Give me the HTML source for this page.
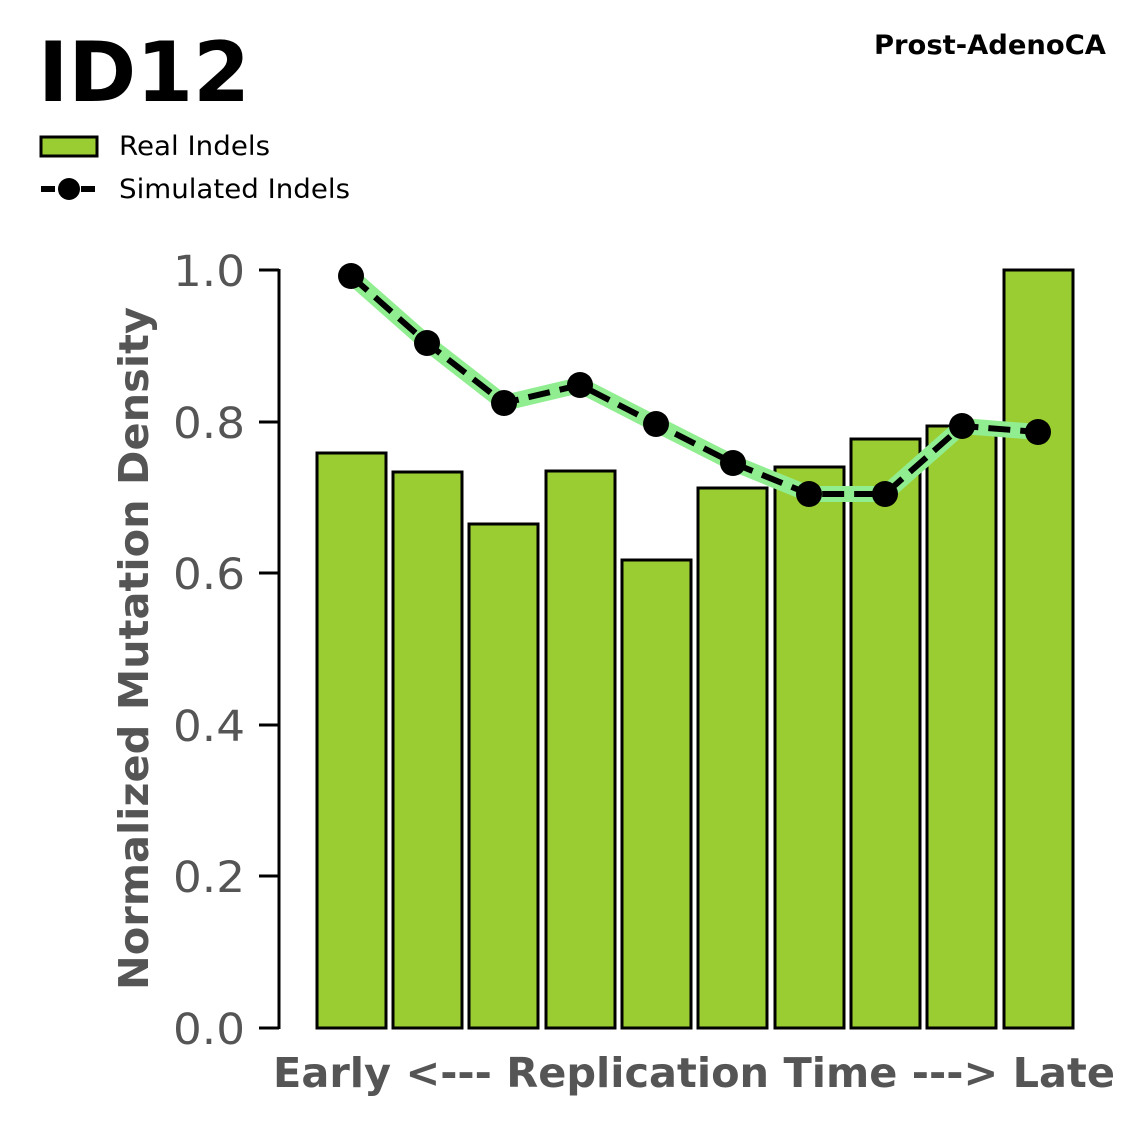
<!DOCTYPE html>
<html><head><meta charset="utf-8"><style>
html,body{margin:0;padding:0;background:#fff}
svg text{font-family:"DejaVu Sans","Liberation Sans",sans-serif}
</style></head><body>
<svg width="1147" height="1125" viewBox="0 0 1147 1125" xmlns="http://www.w3.org/2000/svg">
<text x="38" y="101" font-size="83" font-weight="bold" fill="#000" textLength="212" lengthAdjust="spacingAndGlyphs">ID12</text>
<text x="874" y="54" font-size="27" font-weight="bold" fill="#000" textLength="232" lengthAdjust="spacingAndGlyphs">Prost-AdenoCA</text>
<rect x="41" y="137" width="56" height="19" fill="#9ACD32" stroke="#000" stroke-width="3"/>
<text x="119" y="155" font-size="27" fill="#000" textLength="151" lengthAdjust="spacingAndGlyphs">Real Indels</text>
<line x1="41" y1="189" x2="97" y2="189" stroke="#000" stroke-width="6" stroke-dasharray="14,6"/>
<circle cx="69" cy="189" r="11" fill="#000"/>
<text x="119" y="198" font-size="27" fill="#000" textLength="231" lengthAdjust="spacingAndGlyphs">Simulated Indels</text>
<line x1="279" y1="269" x2="279" y2="1029" stroke="#000" stroke-width="3"/>
<g stroke="#000" stroke-width="3">
<line x1="259" y1="1028" x2="279" y2="1028"/><line x1="259" y1="876" x2="279" y2="876"/>
<line x1="259" y1="725" x2="279" y2="725"/><line x1="259" y1="573" x2="279" y2="573"/>
<line x1="259" y1="422" x2="279" y2="422"/><line x1="259" y1="270" x2="279" y2="270"/>
</g>
<g font-size="43" fill="#555">
<text x="173" y="1044" textLength="72" lengthAdjust="spacingAndGlyphs">0.0</text>
<text x="173" y="892" textLength="72" lengthAdjust="spacingAndGlyphs">0.2</text>
<text x="173" y="741" textLength="72" lengthAdjust="spacingAndGlyphs">0.4</text>
<text x="173" y="589" textLength="72" lengthAdjust="spacingAndGlyphs">0.6</text>
<text x="173" y="438" textLength="72" lengthAdjust="spacingAndGlyphs">0.8</text>
<text x="173" y="286" textLength="72" lengthAdjust="spacingAndGlyphs">1.0</text>
</g>
<text transform="translate(148,990) rotate(-90)" font-size="41" font-weight="bold" fill="#555" textLength="683" lengthAdjust="spacingAndGlyphs">Normalized Mutation Density</text>
<text x="273" y="1087" font-size="41" font-weight="bold" fill="#555" textLength="842" lengthAdjust="spacingAndGlyphs">Early &lt;--- Replication Time ---&gt; Late</text>
<g fill="#9ACD32" stroke="#000" stroke-width="3">
<rect x="317" y="453" width="69" height="575"/>
<rect x="393" y="472" width="69" height="556"/>
<rect x="469" y="524" width="69" height="504"/>
<rect x="546" y="471" width="69" height="557"/>
<rect x="622" y="560" width="69" height="468"/>
<rect x="698" y="488" width="69" height="540"/>
<rect x="775" y="467" width="69" height="561"/>
<rect x="851" y="439" width="69" height="589"/>
<rect x="927" y="426" width="69" height="602"/>
<rect x="1004" y="270" width="69" height="758"/>
</g>
<polyline points="351,276 427,343 504,403 580,385 656,424 733,463 809,494 885,494 962,426 1038,432" fill="none" stroke="#90EE90" stroke-width="16" stroke-linejoin="round"/>
<polyline points="351,276 427,343 504,403 580,385 656,424 733,463 809,494 885,494 962,426 1038,432" fill="none" stroke="#000" stroke-width="6" stroke-dasharray="22,10"/>
<g fill="#000">
<circle cx="351" cy="276" r="13"/><circle cx="427" cy="343" r="13"/><circle cx="504" cy="403" r="13"/>
<circle cx="580" cy="385" r="13"/><circle cx="656" cy="424" r="13"/><circle cx="733" cy="463" r="13"/>
<circle cx="809" cy="494" r="13"/><circle cx="885" cy="494" r="13"/><circle cx="962" cy="426" r="13"/>
<circle cx="1038" cy="432" r="13"/>
</g>
</svg>
</body></html>
